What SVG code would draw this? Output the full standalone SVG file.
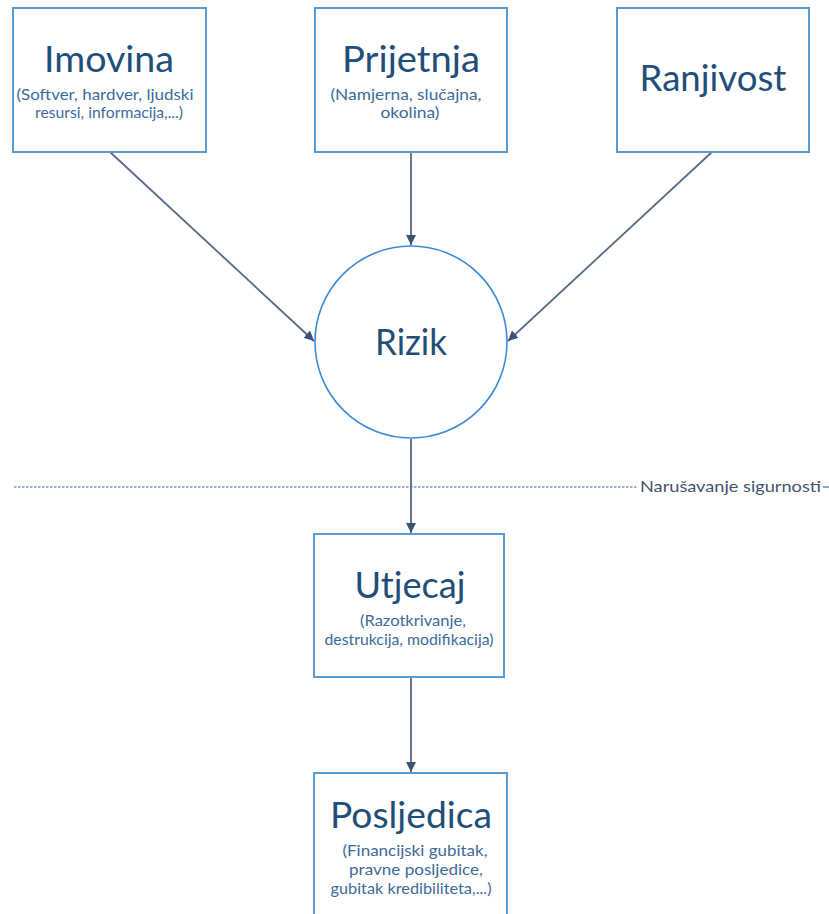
<svg xmlns="http://www.w3.org/2000/svg" width="829" height="914" viewBox="0 0 829 914">
<style>
.box{fill:#fff;stroke:#5b9bd5;stroke-width:2}
.t{font-family:Lato,"Open Sans","Liberation Sans",sans-serif;fill:#1f4e79;text-anchor:middle;font-size:37px}
.s{font-family:Lato,"Open Sans","Liberation Sans",sans-serif;fill:#3d6b99;text-anchor:middle;font-size:15px}
.c{stroke:#566b88;stroke-width:1.8;fill:none}
.lbl{font-family:Lato,"Open Sans","Liberation Sans",sans-serif;fill:#44546a;font-size:15px}
</style>
<defs>
<marker id="ah" viewBox="0 0 10 10" refX="10" refY="5" markerWidth="10" markerHeight="10" markerUnits="userSpaceOnUse" orient="auto">
<path d="M0,0 L10,5 L0,10 z" fill="#3c5274"/>
</marker>
</defs>
<rect width="829" height="914" fill="#fff"/>
<g id="connectors">
<line class="c" x1="110" y1="152" x2="314" y2="341" marker-end="url(#ah)"/>
<line class="c" x1="411" y1="152" x2="411" y2="245" marker-end="url(#ah)"/>
<line class="c" x1="712" y1="152" x2="508" y2="341" marker-end="url(#ah)"/>
<line class="c" x1="411" y1="439" x2="411" y2="533" marker-end="url(#ah)"/>
<line class="c" x1="411" y1="677" x2="411" y2="772" marker-end="url(#ah)"/>
</g>
<g id="divider">
<line x1="14" y1="487" x2="638" y2="487" stroke="#3e68a8" stroke-width="1.2" stroke-dasharray="2.5,1.5"/>
<text class="lbl" x="640" y="492" textLength="181" lengthAdjust="spacingAndGlyphs">Narušavanje sigurnosti</text>
<line x1="823" y1="487" x2="829" y2="487" stroke="#3e68a8" stroke-width="1.2"/>
</g>
<g id="imovina">
<rect class="box" x="13" y="8" width="193" height="144"/>
<text class="t" x="109" y="72" textLength="130" lengthAdjust="spacingAndGlyphs">Imovina</text>
<text class="s" x="105" y="100" textLength="177" lengthAdjust="spacingAndGlyphs">(Softver, hardver, ljudski</text>
<text class="s" x="109" y="118" textLength="148" lengthAdjust="spacingAndGlyphs">resursi, informacija,...)</text>
</g>
<g id="prijetnja">
<rect class="box" x="315" y="8" width="192" height="144"/>
<text class="t" x="411" y="72" textLength="138" lengthAdjust="spacingAndGlyphs">Prijetnja</text>
<text class="s" x="406" y="100" textLength="151" lengthAdjust="spacingAndGlyphs">(Namjerna, slučajna,</text>
<text class="s" x="410" y="118" textLength="59" lengthAdjust="spacingAndGlyphs">okolina)</text>
</g>
<g id="ranjivost">
<rect class="box" x="617" y="8" width="192" height="144"/>
<text class="t" x="713" y="91" textLength="147" lengthAdjust="spacingAndGlyphs">Ranjivost</text>
</g>
<g id="rizik">
<circle cx="411" cy="342" r="96" fill="#fff" stroke="#3a8ad6" stroke-width="1.6"/>
<text class="t" x="411" y="355" textLength="72" lengthAdjust="spacingAndGlyphs">Rizik</text>
</g>
<g id="utjecaj">
<rect class="box" x="314" y="534" width="190" height="143"/>
<text class="t" x="410" y="598" textLength="111" lengthAdjust="spacingAndGlyphs">Utjecaj</text>
<text class="s" x="413" y="626" textLength="106" lengthAdjust="spacingAndGlyphs">(Razotkrivanje,</text>
<text class="s" x="409" y="645" textLength="169" lengthAdjust="spacingAndGlyphs">destrukcija, modifikacija)</text>
</g>
<g id="posljedica">
<rect class="box" x="314" y="773" width="193" height="150"/>
<text class="t" x="411" y="828" textLength="162" lengthAdjust="spacingAndGlyphs">Posljedica</text>
<text class="s" x="415" y="856" textLength="145" lengthAdjust="spacingAndGlyphs">(Financijski gubitak,</text>
<text class="s" x="416" y="875" textLength="134" lengthAdjust="spacingAndGlyphs">pravne posljedice,</text>
<text class="s" x="411" y="894" textLength="161" lengthAdjust="spacingAndGlyphs">gubitak kredibiliteta,...)</text>
</g>
</svg>
